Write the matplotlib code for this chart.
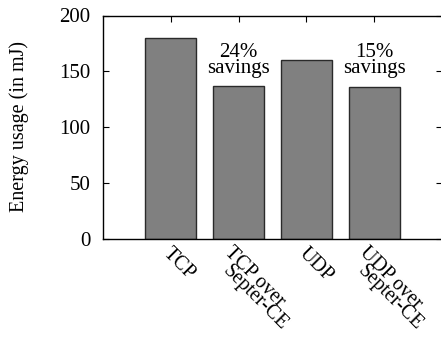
import numpy as np
import matplotlib
matplotlib.use('Agg')
import matplotlib.pyplot as plt

plt.rcParams['font.family'] = 'Liberation Serif'

labels = ['TCP', 'TCP over\nSepter-CE', 'UDP', 'UDP over\nSepter-CE']
energy = [180, 137, 160, 136]
notes = ['24%\nsavings', '15%\nsavings']
note_bars = [1, 3]

fig = plt.figure(figsize=(4.41, 3.37), dpi=100)
ax = fig.add_axes([103 / 441, 1 - 238.5 / 337, 339 / 441, 223 / 337])

x = np.arange(1, len(energy) + 1)
ax.bar(x, energy, width=0.75, color='#808080', edgecolor='#2a2a2a', linewidth=1.0)

for i, t in zip(note_bars, notes):
    ax.text(x[i], 143.5, t, ha='center', va='bottom', fontsize=15, linespacing=0.85)

ax.set_xlim(0, 5)
ax.set_ylim(0, 200)
ax.set_yticks([0, 50, 100, 150, 200])
ax.set_xticks(x)
ax.set_xticklabels([])

# gnuplot-style rotated labels: each extra line drops straight down on screen
for xi, lab in zip(x, labels):
    lines = lab.split('\n')
    if len(lines) == 1:
        offs = [(2, -6)]
    else:
        offs = [(-5, -5), (-7, -23)]
    for line, (dx, dy) in zip(lines, offs):
        ax.annotate(line, (xi, 0), xytext=(dx, dy), textcoords='offset pixels',
                    rotation=-45, rotation_mode='anchor', ha='left', va='top',
                    fontsize=14.5, annotation_clip=False)

ax.tick_params(direction='in', top=True, right=True, length=4, width=0.8,
               labelsize=15, pad=9)
ax.tick_params(axis='x', bottom=False)
for s in ax.spines.values():
    s.set_linewidth(1.0)

ax.set_ylabel('Energy usage (in mJ)', fontsize=14.5, labelpad=22)

fig.savefig('out.png', dpi=100)
